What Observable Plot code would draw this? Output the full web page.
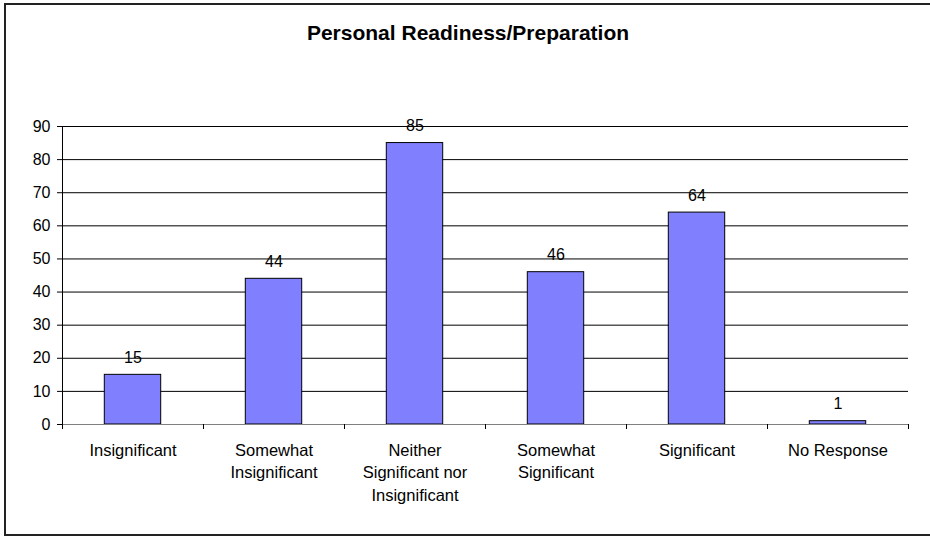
<!DOCTYPE html>
<html>
<head>
<meta charset="utf-8">
<script src="https://cdn.jsdelivr.net/npm/d3@7"></script>
<script src="https://cdn.jsdelivr.net/npm/@observablehq/plot@0.6"></script>
<style>
  html, body { margin: 0; padding: 0; background: #fff; overflow: hidden; }
  #wrap { position: relative; width: 930px; height: 538px; overflow: hidden; font-family: "Liberation Sans", Arial, sans-serif; }
  #border { position: absolute; left: 4px; top: 3px; width: 1200px; height: 533px; border: 2px solid #222; box-sizing: border-box; }
  #title { position: absolute; left: 0; top: 21px; width: 936px; text-align: center; font-weight: bold; font-size: 21px; color: #000; }
  #chart { position: absolute; left: 0; top: 0; }
</style>
</head>
<body>
<div id="wrap">
  <div id="border"></div>
  <div id="chart"></div>
  <div id="title">Personal Readiness/Preparation</div>
</div>
<script>
const categories = ["Insignificant", "Somewhat Insignificant", "Neither Significant nor Insignificant", "Somewhat Significant", "Significant", "No Response"];
const tickLabels = ["Insignificant", "Somewhat\nInsignificant", "Neither\nSignificant nor\nInsignificant", "Somewhat\nSignificant", "Significant", "No Response"];
const values = [15, 44, 85, 46, 64, 1];
const yTicks = [0, 10, 20, 30, 40, 50, 60, 70, 80, 90];

const data = categories.map((c, i) => ({category: c, value: values[i], label: tickLabels[i]}));
const labelOf = new Map(data.map(d => [d.category, d.label]));

const W = 930, H = 538, mL = 62, mR = 22, mT = 126, mB = 114;
const band = (W - mL - mR) / categories.length;

const chart = Plot.plot({
  width: W,
  height: H,
  marginLeft: mL,
  marginRight: mR,
  marginTop: mT,
  marginBottom: mB,
  style: {fontFamily: "'Liberation Sans', Arial, sans-serif", fontSize: "16px", color: "#000", background: "transparent"},
  x: {domain: categories, padding: 0, label: null},
  y: {domain: [0, 90], label: null},
  marks: [
    Plot.ruleY(yTicks.filter(t => t > 0), {stroke: "#000", strokeWidth: 1}),
    Plot.barY(data, {x: "category", y: "value", fill: "#8080FF", stroke: "#000", strokeWidth: 1, insetLeft: band * 0.3, insetRight: band * 0.3}),
    Plot.ruleY([0], {stroke: "#808080", strokeWidth: 1}),
    Plot.ruleX([0], {x: () => categories[0], dx: -band / 2, stroke: "#000", strokeWidth: 1}),
    Plot.ruleX(categories, {x: d => d, dx: -band / 2, y1: 0, y2: 0, insetBottom: -5, stroke: "#000"}),
    Plot.ruleX([categories[categories.length - 1]], {x: d => d, dx: band / 2, y1: 0, y2: 0, insetBottom: -5, stroke: "#000"}),
    Plot.text(data, {x: "category", y: "value", text: d => String(d.value), lineAnchor: "bottom", dy: -12, fontSize: 16, fill: "#000"}),
    Plot.axisY({ticks: yTicks, tickSize: 5, tickPadding: 7, tickFormat: d => String(d), fontSize: 16}),
    Plot.axisX({tickSize: 0, tickPadding: 15, tickFormat: d => labelOf.get(d), lineHeight: 1.37, fontSize: 16.5})
  ]
});
document.getElementById("chart").appendChild(chart);
</script>
</body>
</html>
